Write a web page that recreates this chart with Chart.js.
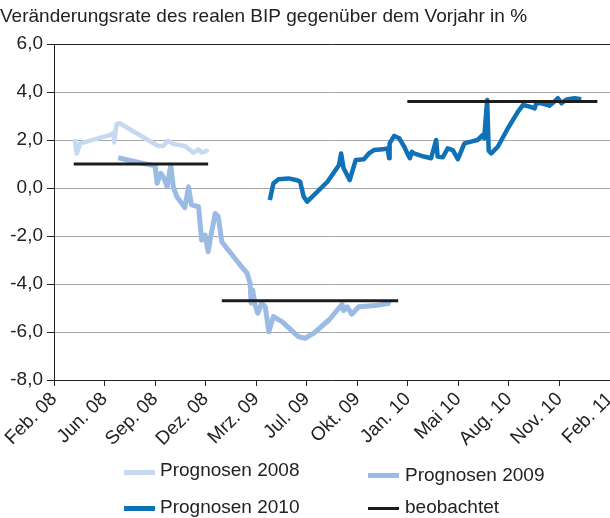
<!DOCTYPE html>
<html>
<head>
<meta charset="utf-8">
<script src="https://cdn.jsdelivr.net/npm/chart.js@4"></script>
<style>
    body { margin: 0; background: #fff; }
    #wrap { position: relative; width: 610px; height: 518px; font-family: "Liberation Sans", Arial, sans-serif; color: #222; }
    #bipChart { position: absolute; left: 0; top: 0; }
    .swatch { position: absolute; width: 31px; }
    .lbl { position: absolute; font-size: 19px; line-height: 20px; white-space: nowrap; }
</style>
</head>
<body>
<div id="wrap">
    <canvas id="bipChart" width="610" height="518"></canvas>
    <!-- legend, two columns like the original -->
    <div class="swatch" style="left:124px; top:470px; height:5px; background:#c6d9f0"></div>
    <div class="lbl" style="left:160px; top:460px">Prognosen 2008</div>
    <div class="swatch" style="left:368px; top:473px; height:5px; background:#9bbbe5"></div>
    <div class="lbl" style="left:405px; top:465px">Prognosen 2009</div>
    <div class="swatch" style="left:124px; top:506px; height:5px; background:#0f71b6"></div>
    <div class="lbl" style="left:160px; top:497px">Prognosen 2010</div>
    <div class="swatch" style="left:368px; top:507px; height:3px; background:#1c1c1c"></div>
    <div class="lbl" style="left:405px; top:497px">beobachtet</div>
</div>
<script>
// x positions are in tick units (0 = Feb. 08, 11 = Feb. 11)
const xLabels = ['Feb. 08', 'Jun. 08', 'Sep. 08', 'Dez. 08', 'Mrz. 09', 'Jul. 09',
                 'Okt. 09', 'Jan. 10', 'Mai 10', 'Aug. 10', 'Nov. 10', 'Feb. 11'];

const prog2008X = [0.41, 0.45, 0.52, 1.10, 1.18, 1.19, 1.24, 1.30, 2.06, 2.16, 2.26, 2.36, 2.59, 2.76, 2.86, 2.92, 3.02, 3.05];
const prog2008Y = [2.03, 1.44, 1.86, 2.20, 2.30, 1.90, 2.67, 2.70, 1.75, 1.75, 1.97, 1.83, 1.75, 1.47, 1.61, 1.47, 1.55, 1.50];

const prog2009X = [1.27, 1.70, 2.00, 2.04, 2.11, 2.16, 2.24, 2.31, 2.36, 2.43, 2.59, 2.66, 2.72, 2.86, 2.92, 2.99,
                   3.05, 3.10, 3.19, 3.25, 3.32, 3.42, 3.68, 3.82, 3.88, 3.90, 3.93, 3.98, 4.03, 4.11, 4.18, 4.25,
                   4.34, 4.51, 4.84, 4.97, 5.14, 5.44, 5.70, 5.73, 5.80, 5.89, 6.03, 6.36, 6.63, 6.66];
const prog2009Y = [1.26, 1.05, 0.92, 0.20, 0.61, 0.47, 0.06, 0.96, 0.06, -0.36, -0.82, 0.05, -0.70, -0.78, -2.17, -1.96,
                   -2.65, -2.03, -1.06, -1.20, -2.24, -2.51, -3.20, -3.55, -3.97, -4.80, -4.25, -4.88, -5.22, -4.80, -4.95, -5.99,
                   -5.36, -5.57, -6.20, -6.26, -6.05, -5.50, -4.85, -5.11, -4.95, -5.26, -4.95, -4.90, -4.80, -4.83];

const prog2010X = [4.27, 4.34, 4.44, 4.64, 4.81, 4.87, 4.94, 5.01, 5.41, 5.64, 5.68, 5.73, 5.85, 5.97, 6.13, 6.23,
                   6.33, 6.50, 6.60, 6.63, 6.64, 6.73, 6.83, 6.93, 6.99, 7.04, 7.08, 7.12, 7.32, 7.46, 7.56, 7.59,
                   7.69, 7.79, 7.89, 7.99, 8.12, 8.25, 8.38, 8.48, 8.51, 8.57, 8.60, 8.65, 8.78, 8.98, 9.18, 9.28,
                   9.41, 9.51, 9.54, 9.65, 9.80, 9.90, 9.97, 10.04, 10.14, 10.30, 10.43];
const prog2010Y = [-0.50, 0.19, 0.36, 0.40, 0.32, 0.26, -0.36, -0.57, 0.26, 0.96, 1.44, 0.82, 0.33, 1.17, 1.20, 1.44,
                   1.58, 1.61, 1.65, 1.24, 1.86, 2.17, 2.07, 1.72, 1.44, 1.24, 1.51, 1.44, 1.31, 1.24, 2.00, 1.31,
                   1.28, 1.65, 1.58, 1.20, 1.86, 1.93, 2.00, 2.20, 2.07, 3.67, 1.55, 1.44, 1.72, 2.49, 3.18, 3.46,
                   3.39, 3.32, 3.53, 3.53, 3.43, 3.60, 3.74, 3.53, 3.69, 3.74, 3.70];

// observed annual growth, one flat segment per year (null = gap)
const observedX = [0.39, 3.05, 3.06, 3.32, 6.81, 6.82, 6.99, 10.75];
const observedY = [1.0, 1.0, null, -4.7, -4.7, null, 3.6, 3.6];

function toPoints(xs, ys) {
    return xs.map((x, i) => ({ x: x, y: ys[i] }));
}

Chart.defaults.font.family = '"Liberation Sans", Arial, sans-serif';
Chart.defaults.font.size = 19;
Chart.defaults.color = '#222';

function lineSet(label, xs, ys, color, width, order) {
    return {
        label: label,
        data: toPoints(xs, ys),
        borderColor: color,
        backgroundColor: color,
        borderWidth: width,
        pointRadius: 0,
        borderJoinStyle: 'round',
        borderCapStyle: 'butt',
        tension: 0,
        spanGaps: false,
        order: order
    };
}

new Chart(document.getElementById('bipChart').getContext('2d'), {
    type: 'line',
    data: {
        datasets: [
            lineSet('Prognosen 2008', prog2008X, prog2008Y, '#c6d9f0', 4.5, 1),
            lineSet('Prognosen 2009', prog2009X, prog2009Y, '#9bbbe5', 5, 1),
            lineSet('Prognosen 2010', prog2010X, prog2010Y, '#0f71b6', 4.5, 1),
            lineSet('beobachtet', observedX, observedY, '#1c1c1c', 3, 0)
        ]
    },
    options: {
        responsive: false,
        animation: false,
        devicePixelRatio: 1,
        layout: { padding: 0 },
        plugins: {
            legend: { display: false },
            tooltip: { enabled: false },
            title: {
                display: true,
                text: 'Veränderungsrate des realen BIP gegenüber dem Vorjahr in %',
                align: 'start',
                color: '#222',
                font: { size: 19, weight: 'normal' },
                padding: { top: 5, bottom: 16.2 }
            }
        },
        scales: {
            x: {
                type: 'linear',
                min: 0,
                max: 11,
                afterFit: function(scale) {
                    scale.height = 138;
                    scale.paddingRight = 0;
                },
                ticks: {
                    stepSize: 1,
                    autoSkip: false,
                    maxRotation: 45,
                    minRotation: 45,
                    padding: 2,
                    callback: function(value) { return xLabels[value]; }
                },
                grid: {
                    drawOnChartArea: false,
                    tickLength: 6,
                    tickColor: '#222'
                },
                border: { color: '#222', width: 1 }
            },
            y: {
                min: -8,
                max: 6,
                afterFit: function(scale) {
                    scale.width = 54;
                },
                ticks: {
                    stepSize: 2,
                    padding: 4,
                    callback: function(value) { return value.toFixed(1).replace('.', ','); }
                },
                grid: {
                    color: function(ctx) { return ctx.tick && ctx.tick.value === 6 ? '#222' : '#a6a6a6'; },
                    tickColor: '#222',
                    tickLength: 7
                },
                border: { color: '#222', width: 1 }
            }
        }
    }
});
</script>
</body>
</html>
